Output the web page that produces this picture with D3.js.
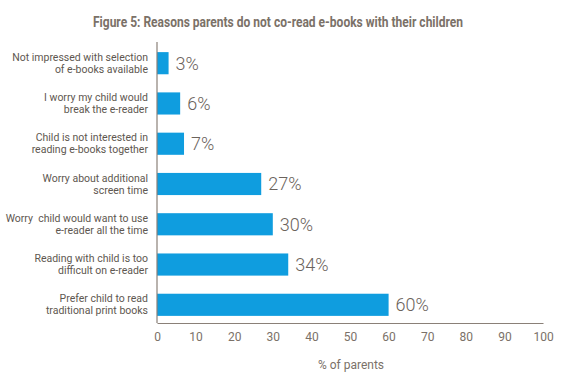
<!DOCTYPE html>
<html><head><meta charset="utf-8">
<script src="https://cdn.jsdelivr.net/npm/d3@7"></script>
<style>body{margin:0;background:#fff;}svg{display:block;} text{white-space:pre;}</style>
</head><body>
<script>
const categories = [
  ["Not impressed with selection", "of e-books available"],
  ["I worry my child would", "break the e-reader"],
  ["Child is not interested in", "reading e-books together"],
  ["Worry about additional", "screen time"],
  ["Worry  child would want to use", "e-reader all the time"],
  ["Reading with child is too", "difficult on e-reader"],
  ["Prefer child to read", "traditional print books"]
];
const values = [3, 6, 7, 27, 30, 34, 60];
const tickValues = [0,10,20,30,40,50,60,70,80,90,100];
const title = "Figure 5: Reasons parents do not co-read e-books with their children";
const xTitle = "% of parents";

const W = 575, H = 381;
const svg = d3.select("body").append("svg").attr("width", W).attr("height", H);
const font = "Roboto, 'DejaVu Sans', sans-serif";

const x = d3.scaleLinear().domain([0,100]).range([157, 543]);
const y = d3.scaleBand().domain(d3.range(categories.length)).range([34, 334]).paddingInner(0.45).paddingOuter(0.45);

svg.append("text").attr("x", 278).attr("y", 27).attr("text-anchor","middle")
  .attr("font-family", font).attr("font-weight","bold").attr("font-size", 14)
  .attr("textLength", 370).attr("lengthAdjust","spacingAndGlyphs")
  .attr("fill","#7b7168").text(title);

// bars
svg.selectAll("rect.bar").data(values).join("rect").attr("class","bar")
  .attr("x", x(0)).attr("y",(d,i)=>y(i)).attr("width", d=>x(d)-x(0)).attr("height", y.bandwidth())
  .attr("fill","#0f9ddf");

// value labels
svg.selectAll("text.val").data(values).join("text").attr("class","val")
  .attr("x", d=>x(d)+7).attr("y",(d,i)=>y(i)+y.bandwidth()/2).attr("dy","0.36em")
  .attr("font-family", font).attr("font-weight", 300).attr("font-size", 18).attr("fill","#6b635c")
  .text(d=>d+"%");

// category labels
const cl = svg.selectAll("text.cat").data(categories).join("text").attr("class","cat")
  .attr("text-anchor","end").attr("font-family", font).attr("font-size", 10.5).attr("fill","#5e5750")
  .attr("transform",(d,i)=>`translate(148,${y(i)+y.bandwidth()/2})`);
cl.selectAll("tspan").data(d=>d).join("tspan").attr("x",0)
  .attr("y",(d,j)=>(j-0.5)*12).attr("dy","0.35em").text(d=>d);

// axes
const ax = svg.append("g").attr("transform","translate(0,323)")
  .call(d3.axisBottom(x).tickValues(tickValues).tickSize(0).tickPadding(9));
ax.select(".domain").attr("stroke","#8a8078").attr("stroke-width",1.2);
ax.selectAll("text").attr("font-family", font).attr("font-size", 12).attr("fill","#7b7168");
svg.append("line").attr("x1", x(0)).attr("x2", x(0)).attr("y1", 42).attr("y2", 323)
  .attr("stroke","#8a8078").attr("stroke-width",1.2);

svg.append("text").attr("x", 351).attr("y", 369).attr("text-anchor","middle")
  .attr("font-family", font).attr("font-size", 12).attr("fill","#7b7168").text(xTitle);
</script>
</body></html>
